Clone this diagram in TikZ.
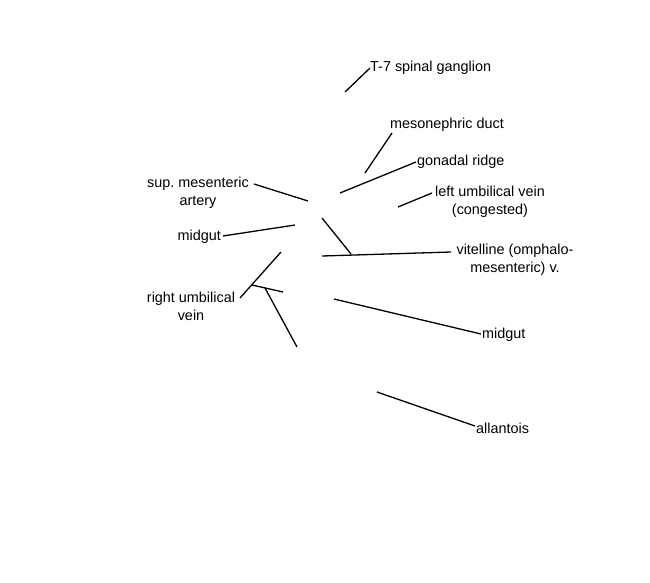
\documentclass[tikz,border=0pt]{standalone}
\usepackage{fontspec}
\setmainfont{Liberation Sans}
\frenchspacing
\begin{document}
\begin{tikzpicture}[x=1pt,y=-1pt,
  lbl/.style={inner sep=0pt,font=\fontsize{14.4}{17.5}\selectfont,align=center},
  conn/.style={line width=1.3pt}]
\useasboundingbox (0,0) rectangle (650,582);
% coordinates (pixel positions)
\coordinate (t7a) at (345,92);   \coordinate (t7b) at (370,68);
\coordinate (mda) at (365,173);  \coordinate (mdb) at (392,133);
\coordinate (gra) at (340,193);  \coordinate (grb) at (416,162);
\coordinate (lua) at (398,207);  \coordinate (lub) at (432,193);
\coordinate (sma) at (308,201);  \coordinate (smb) at (254,184);
\coordinate (mla) at (295,225);  \coordinate (mlb) at (223,236);
\coordinate (vva) at (322,256);  \coordinate (vvb) at (451,252);
\coordinate (vvc) at (322,218);  \coordinate (vvd) at (351,254);
\coordinate (rua) at (240,298);  \coordinate (rub) at (281,252);
\coordinate (ruc) at (252,285);  \coordinate (rud) at (283,292);
\coordinate (rue) at (265,288);  \coordinate (ruf) at (297,347);
\coordinate (mra) at (334,299);  \coordinate (mrb) at (481,334);
\coordinate (ala) at (377,392);  \coordinate (alb) at (475,426);
% labels
\node[lbl,anchor=west] (t7) at (370,68) {T-7 spinal ganglion};
\node[lbl] (md) at (447,125) {mesonephric duct};
\node[lbl,anchor=west] (gr) at (417,162) {gonadal ridge};
\node[lbl,anchor=north] (lu) at (490,186) {left umbilical vein\\(congested)};
\node[lbl,anchor=north] (sm) at (198,177) {sup. mesenteric\\artery};
\node[lbl,anchor=east] (ml) at (221,237) {midgut};
\node[lbl,anchor=north] (vv) at (515,244) {vitelline (omphalo-\\mesenteric) v.};
\node[lbl,anchor=north] (ru) at (191,292) {right umbilical\\vein};
\node[lbl,anchor=west] (mr) at (482,335) {midgut};
\node[lbl,anchor=west] (al) at (476,428) {allantois};
% connectors
\draw[conn] (t7a) -- (t7b);
\draw[conn] (mda) -- (mdb);
\draw[conn] (gra) -- (grb);
\draw[conn] (lua) -- (lub);
\draw[conn] (sma) -- (smb);
\draw[conn] (mla) -- (mlb);
\draw[conn] (vva) -- (vvb);
\draw[conn] (vvc) -- (vvd);
\draw[conn] (rua) -- (rub);
\draw[conn] (ruc) -- (rud);
\draw[conn] (rue) -- (ruf);
\draw[conn] (mra) -- (mrb);
\draw[conn] (ala) -- (alb);
\end{tikzpicture}
\end{document}
